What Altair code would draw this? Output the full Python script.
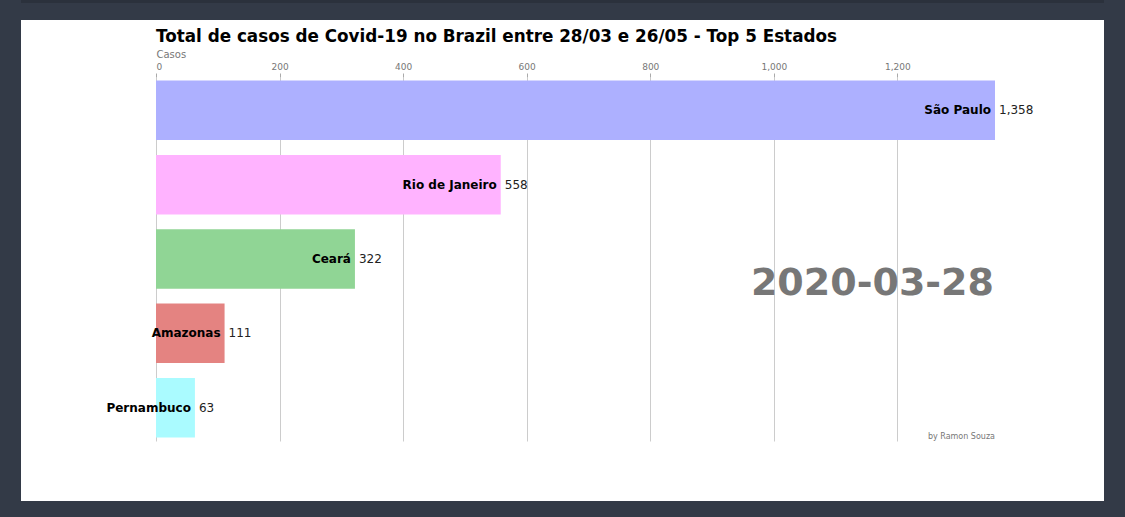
import altair as alt
import pandas as pd

# ---- data ----
states = ["São Paulo", "Rio de Janeiro", "Ceará", "Amazonas", "Pernambuco"]
cases = [1358, 558, 322, 111, 63]
bar_colors = ["#adb0ff", "#ffb3ff", "#90d595", "#e48381", "#aafbff"]
tick_values = [0, 200, 400, 600, 800, 1000, 1200]
title_text = "Total de casos de Covid-19 no Brazil entre 28/03 e 26/05 - Top 5 Estados"
x_title = "Casos"
date_label = "2020-03-28"
credit = "by Ramon Souza"

# ---- layout ----
W, H = 839, 364
PAD_L, PAD_T = 156, 77
TOTAL_W, TOTAL_H = 1125, 517
PAD_R = TOTAL_W - W - PAD_L
PAD_B = TOTAL_H - H - PAD_T
DARK = "#333a47"
DARK_TOP = "#2b313c"
FONT = "DejaVu Sans"

df = pd.DataFrame({
    "state": states,
    "cases": cases,
    "label": [f"{v:,}" for v in cases],
})

x_enc = alt.X(
    "cases:Q",
    scale=alt.Scale(domain=[0, max(cases)], nice=False, zero=True),
    axis=alt.Axis(
        orient="top",
        values=tick_values,
        format=",.0f",
        title=x_title,
        titleX=0,
        titleY=-20,
        titleAlign="left",
        titleAnchor="start",
        titleBaseline="alphabetic",
        titleFontSize=10,
        titleFontWeight="normal",
        titleColor="#777777",
        titleFont=FONT,
        labelFont=FONT,
        labelFontSize=9,
        labelColor="#777777",
        labelPadding=2,
        tickSize=4,
        tickColor="#aaaaaa",
        tickWidth=1,
        domain=False,
        grid=True,
        gridColor="#cccccc",
        gridWidth=1,
    ),
)
y_enc = alt.Y(
    "state:N",
    sort=states,
    scale=alt.Scale(paddingInner=0.2, paddingOuter=0.048),
    axis=None,
)

base = alt.Chart(df)

bars = base.mark_bar().encode(
    x=x_enc,
    y=y_enc,
    color=alt.Color("state:N", scale=alt.Scale(domain=states, range=bar_colors), legend=None),
)

names = base.mark_text(
    align="right", baseline="middle", dx=-4, fontSize=12, fontWeight="bold",
    font=FONT, color="#000000",
).encode(x="cases:Q", y=alt.Y("state:N", sort=states), text="state:N")

values = base.mark_text(
    align="left", baseline="middle", dx=4, fontSize=12, font=FONT, color="#222222",
).encode(x="cases:Q", y=alt.Y("state:N", sort=states), text="label:N")

one = alt.Chart(pd.DataFrame({"t": [date_label], "c": [credit], "h": [title_text]}))

date_txt = one.mark_text(
    align="right", baseline="alphabetic", fontSize=38, fontWeight="bold",
    font=FONT, color="#777777",
).encode(x=alt.value(W - 1), y=alt.value(H * 0.6), text="t:N")

credit_txt = one.mark_text(
    align="right", baseline="alphabetic", fontSize=8, font=FONT, color="#777777",
).encode(x=alt.value(W), y=alt.value(H - 2), text="c:N")

title_txt = one.mark_text(
    align="left", baseline="alphabetic", fontSize=16.8, fontWeight="bold",
    font=FONT, color="#000000",
).encode(x=alt.value(0), y=alt.value(-35), text="h:N")

# dark frame around the white panel
def frame(x0, x1, y0, y1, color):
    return one.mark_rect(color=color).encode(
        x=alt.value(x0 - PAD_L), x2=alt.value(x1 - PAD_L),
        y=alt.value(y0 - PAD_T), y2=alt.value(y1 - PAD_T),
    )

frames = [
    frame(0, TOTAL_W, 0, 20, DARK),
    frame(0, TOTAL_W, 0, 3, DARK_TOP),
    frame(0, TOTAL_W, 501, TOTAL_H, DARK),
    frame(0, 21, 0, TOTAL_H, DARK),
    frame(1104, TOTAL_W, 0, TOTAL_H, DARK),
]

chart = alt.layer(
    bars, names, values, date_txt, credit_txt, title_txt, *frames
).properties(
    width=W,
    height=H,
    autosize=alt.AutoSizeParams(type="none"),
    padding={"left": PAD_L, "top": PAD_T, "right": PAD_R, "bottom": PAD_B},
    background="white",
).configure(font=FONT).configure_view(strokeWidth=0, stroke="transparent")

chart.save("out.html", embed_options={"renderer": "svg", "actions": False})
